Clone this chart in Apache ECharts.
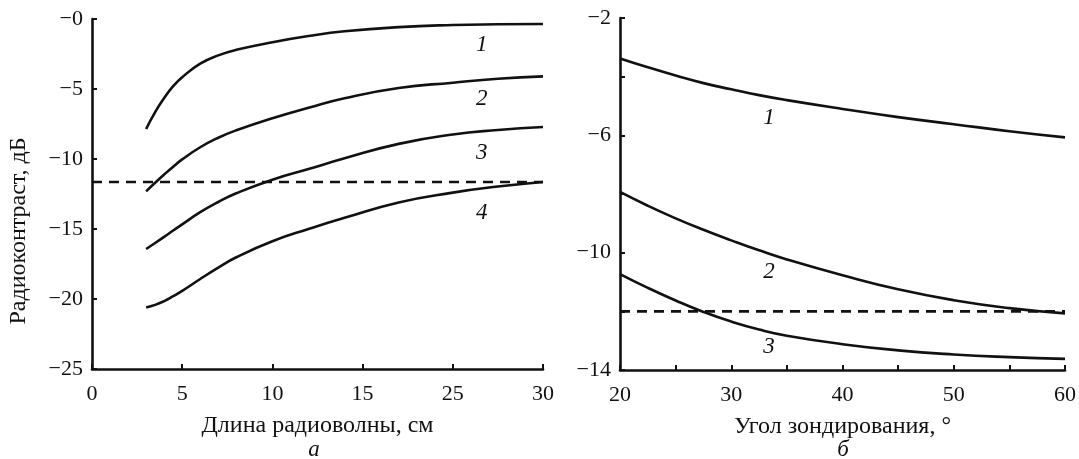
<!DOCTYPE html>
<html>
<head>
<meta charset="utf-8">
<script src="https://cdn.jsdelivr.net/npm/echarts@6/dist/echarts.min.js"></script>
<style>
  html, body { margin: 0; padding: 0; background: #fff; }
  #chart { width: 1079px; height: 459px; }
</style>
</head>
<body>
<div id="chart"></div>
<script>
// ---------- Panel "а": radio contrast vs wavelength ----------
// x positions on the printed axis (ticks every 5; printed labels below)
const leftTickValues = [0, 5, 10, 15, 20, 25];
const leftTickLabels = ["0", "5", "10", "15", "25", "30"];
const leftYTickValues = [-25, -20, -15, -10, -5, 0];
const leftYTickLabels = ["−25", "−20", "−15", "−10", "−5", "−0"];

const leftX = [3, 3.5, 4, 4.5, 5, 6, 7, 8, 10, 12, 14, 17, 20, 22.5, 25];
const leftCurve1 = [-7.86, -6.65, -5.65, -4.8, -4.16, -3.19, -2.6, -2.2, -1.66, -1.22, -0.88, -0.58, -0.43, -0.38, -0.36];
const leftCurve2 = [-12.31, -11.7, -11.11, -10.55, -10.03, -9.16, -8.48, -7.95, -7.09, -6.34, -5.66, -4.93, -4.55, -4.27, -4.1];
const leftCurve3 = [-16.43, -16.0, -15.56, -15.11, -14.67, -13.8, -13.07, -12.45, -11.48, -10.72, -9.95, -8.92, -8.25, -7.93, -7.71];
const leftCurve4 = [-20.6, -20.42, -20.15, -19.8, -19.42, -18.57, -17.76, -17.02, -15.87, -15.0, -14.2, -13.1, -12.4, -11.97, -11.64];
const leftThreshold = -11.64;
const leftThresholdX = [0, 25];
const leftCurveNames = ["1", "2", "3", "4"];
const leftCurveLabelX = [21.6, 21.6, 21.6, 21.6];
const leftCurveLabelY = [-1.84, -5.69, -9.55, -13.84];

// ---------- Panel "б": radio contrast vs sounding angle ----------
const rightX = [20, 22.5, 25, 27.5, 30, 32.5, 35, 40, 45, 50, 55, 60];
const rightCurve1 = [-3.38, -3.68, -3.96, -4.22, -4.43, -4.63, -4.8, -5.1, -5.38, -5.62, -5.86, -6.07];
const rightCurve2 = [-7.93, -8.4, -8.83, -9.22, -9.58, -9.92, -10.23, -10.77, -11.25, -11.62, -11.89, -12.07];
const rightCurve3 = [-10.73, -11.2, -11.63, -12.02, -12.35, -12.62, -12.83, -13.12, -13.33, -13.47, -13.56, -13.62];
const rightThreshold = -12.0;
const rightThresholdX = [20, 60];
const rightYLabelled = [-14, -10, -6, -2];
const rightXLabelled = [20, 30, 40, 50, 60];
const rightCurveNames = ["1", "2", "3"];
const rightCurveLabelX = [33.4, 33.4, 33.4];
const rightCurveLabelY = [-5.4, -10.66, -13.2];

const FONT = 'Liberation Serif';
const INK = '#111';

function pairs(xs, ys) { return xs.map((x, i) => [x, ys[i]]); }
function labelPoints(xs, ys, names) { return xs.map((x, i) => [x, ys[i], names[i]]); }

function curve(xIdx, yIdx, ys, xs) {
  return {
    type: 'line', xAxisIndex: xIdx, yAxisIndex: yIdx,
    data: pairs(xs, ys), showSymbol: false, symbol: 'none',
    smooth: true,
    lineStyle: { color: INK, width: 2.6 }, silent: true, z: 3
  };
}
function dashed(xIdx, yIdx, xs, y) {
  return {
    type: 'line', xAxisIndex: xIdx, yAxisIndex: yIdx,
    data: xs.map(x => [x, y]), showSymbol: false, symbol: 'none',
    lineStyle: { color: INK, width: 2.6, type: [10, 7] }, silent: true, z: 2
  };
}
function numberLabels(xIdx, yIdx, pts) {
  return {
    type: 'scatter', xAxisIndex: xIdx, yAxisIndex: yIdx,
    data: pts, symbolSize: 0.1, silent: true,
    itemStyle: { opacity: 1, color: INK },
    label: {
      show: true, position: 'inside', formatter: p => p.value[2],
      fontFamily: FONT, fontStyle: 'italic', fontSize: 23, color: INK, opacity: 1
    }
  };
}

const axisCommon = {
  axisLine: { show: true, onZero: false, lineStyle: { color: INK, width: 2.6 } },
  axisTick: { show: true, inside: true, length: 5, lineStyle: { color: INK, width: 2 } },
  splitLine: { show: false },
  axisLabel: { fontFamily: FONT, fontSize: 22, color: INK }
};

const option = {
  animation: false,
  backgroundColor: '#fff',
  textStyle: { fontFamily: FONT },
  grid: [
    { left: 92, top: 19, width: 451, height: 350 },
    { left: 620, top: 18, width: 452, height: 352 }
  ],
  xAxis: [
    Object.assign({}, axisCommon, {
      type: 'value', gridIndex: 0, min: 0, max: 25, interval: 5,
      axisLabel: Object.assign({}, axisCommon.axisLabel, {
        margin: 14,
        formatter: v => leftTickLabels[leftTickValues.indexOf(v)] || ''
      }),
      name: 'Длина радиоволны, см', nameLocation: 'middle', nameGap: 45,
      nameTextStyle: { fontFamily: FONT, fontSize: 24, color: INK }
    }),
    Object.assign({}, axisCommon, {
      type: 'value', gridIndex: 1, min: 20, max: 60, interval: 5,
      axisLabel: Object.assign({}, axisCommon.axisLabel, {
        margin: 14,
        formatter: v => rightXLabelled.indexOf(v) >= 0 ? String(v) : ''
      }),
      name: 'Угол зондирования, °', nameLocation: 'middle', nameGap: 45,
      nameTextStyle: { fontFamily: FONT, fontSize: 24, color: INK }
    })
  ],
  yAxis: [
    Object.assign({}, axisCommon, {
      type: 'value', gridIndex: 0, min: -25, max: 0, interval: 5,
      axisLabel: Object.assign({}, axisCommon.axisLabel, {
        margin: 9,
        formatter: v => leftYTickLabels[leftYTickValues.indexOf(v)] || ''
      })
    }),
    Object.assign({}, axisCommon, {
      type: 'value', gridIndex: 1, min: -14, max: -2, interval: 2,
      axisLabel: Object.assign({}, axisCommon.axisLabel, {
        margin: 9,
        formatter: v => rightYLabelled.indexOf(v) >= 0 ? '−' + Math.abs(v) : ''
      })
    })
  ],
  graphic: [
    { type: 'text', x: 19, y: 231, rotation: Math.PI / 2,
      style: { text: 'Радиоконтраст, дБ', fontFamily: FONT, fontSize: 24, fill: INK, align: 'center', verticalAlign: 'middle' } },
    { type: 'text', x: 314, y: 450,
      style: { text: 'а', fontFamily: FONT, fontStyle: 'italic', fontSize: 23, fill: INK, align: 'center', verticalAlign: 'middle' } },
    { type: 'text', x: 843, y: 450,
      style: { text: 'б', fontFamily: FONT, fontStyle: 'italic', fontSize: 23, fill: INK, align: 'center', verticalAlign: 'middle' } }
  ],
  series: [
    curve(0, 0, leftCurve1, leftX),
    curve(0, 0, leftCurve2, leftX),
    curve(0, 0, leftCurve3, leftX),
    curve(0, 0, leftCurve4, leftX),
    dashed(0, 0, leftThresholdX, leftThreshold),
    numberLabels(0, 0, labelPoints(leftCurveLabelX, leftCurveLabelY, leftCurveNames)),
    curve(1, 1, rightCurve1, rightX),
    curve(1, 1, rightCurve2, rightX),
    curve(1, 1, rightCurve3, rightX),
    dashed(1, 1, rightThresholdX, rightThreshold),
    numberLabels(1, 1, labelPoints(rightCurveLabelX, rightCurveLabelY, rightCurveNames))
  ]
};

const chart = echarts.init(document.getElementById('chart'), null, { renderer: 'canvas' });
chart.setOption(option);
</script>
</body>
</html>
